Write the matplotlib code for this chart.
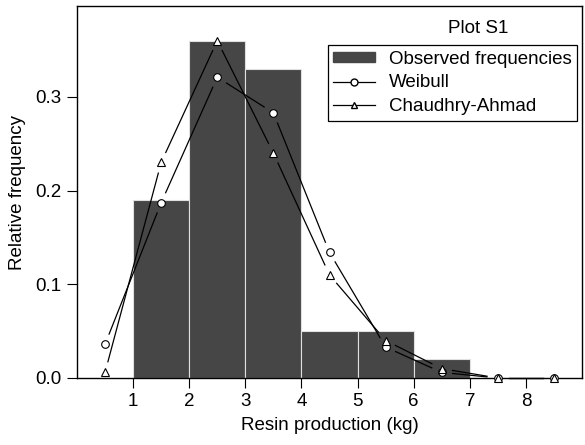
import numpy as np
import matplotlib.pyplot as plt

plt.rcParams['font.family'] = ['Liberation Sans', 'DejaVu Sans']

# histogram of observed frequencies (class lower edges, width 1 kg)
bin_left = [1, 2, 3, 4, 5, 6, 7, 8]
observed = [0.19, 0.36, 0.33, 0.05, 0.05, 0.02, 0.0, 0.0]

# fitted distributions at class midpoints
mid = [0.5, 1.5, 2.5, 3.5, 4.5, 5.5, 6.5, 7.5, 8.5]
weibull = [0.036, 0.187, 0.321, 0.283, 0.134, 0.033, 0.006, 0.0, 0.0]
chaudhry = [0.006, 0.230, 0.360, 0.240, 0.110, 0.040, 0.010, 0.0, 0.0]

fig = plt.figure(figsize=(5.85, 4.45), dpi=100)
ax = fig.add_axes([77 / 585, 1 - 378 / 445, 505 / 585, 372 / 445])
ax.set_xlim(0, 9)
ax.set_ylim(0, 0.397)

ax.bar(bin_left, observed, width=1, align='edge', color='#464646',
       edgecolor='#e0e0e0', linewidth=0.8, label='Observed frequencies', zorder=1)


def gapped_line(x, y, gap=11):
    # R style type="b": segments stop short of the points
    fig.canvas.draw()
    pts = ax.transData.transform(np.column_stack([x, y]))
    inv = ax.transData.inverted()
    for p0, p1 in zip(pts[:-1], pts[1:]):
        d = p1 - p0
        L = np.hypot(*d)
        if L <= 2 * gap:
            continue
        u = d / L
        a = inv.transform(p0 + u * gap)
        b = inv.transform(p1 - u * gap)
        ax.plot([a[0], b[0]], [a[1], b[1]], color='black', lw=0.9, zorder=2,
                clip_on=False)


gapped_line(mid, weibull)
gapped_line(mid, chaudhry)
ax.plot(mid, weibull, ls='none', marker='o', ms=5.5, mfc='white', mec='black',
        mew=0.8, zorder=3, clip_on=False)
ax.plot(mid, chaudhry, ls='none', marker='^', ms=5.5, mfc='white', mec='black',
        mew=0.8, zorder=3, clip_on=False)

# legend proxies
h_obs = plt.Rectangle((0, 0), 1, 1, color='#464646')
h_w, = ax.plot([], [], color='black', lw=0.9, marker='o', ms=5, mfc='white', mec='black')
h_c, = ax.plot([], [], color='black', lw=0.9, marker='^', ms=5, mfc='white', mec='black')
leg = ax.legend([h_obs, h_w, h_c], ['Observed frequencies', 'Weibull', 'Chaudhry-Ahmad'],
                loc='upper right', bbox_to_anchor=(0.99, 0.895), fontsize=13.5,
                frameon=True, fancybox=False, edgecolor='black', framealpha=1,
                borderpad=0.3, handlelength=2.24, handleheight=0.45, handletextpad=0.7,
                labelspacing=0.36, borderaxespad=0)
leg.get_frame().set_linewidth(0.9)
ax.text(0.795, 0.94, 'Plot S1', transform=ax.transAxes, ha='center', va='center',
        fontsize=13.5)

ax.set_xticks(range(1, 9))
ax.set_yticks([0.0, 0.1, 0.2, 0.3])
ax.set_yticklabels(['0.0', '0.1', '0.2', '0.3'])
ax.tick_params(labelsize=13.5, length=7.5, width=0.8, direction='out')
ax.tick_params(axis='x', pad=3)
ax.tick_params(axis='y', pad=4)
ax.set_xlabel('Resin production (kg)', fontsize=13.5, labelpad=5)
ax.set_ylabel('Relative frequency', fontsize=13.5, labelpad=6)
for s in ax.spines.values():
    s.set_linewidth(1.0)

fig.savefig('out.png', dpi=100)
